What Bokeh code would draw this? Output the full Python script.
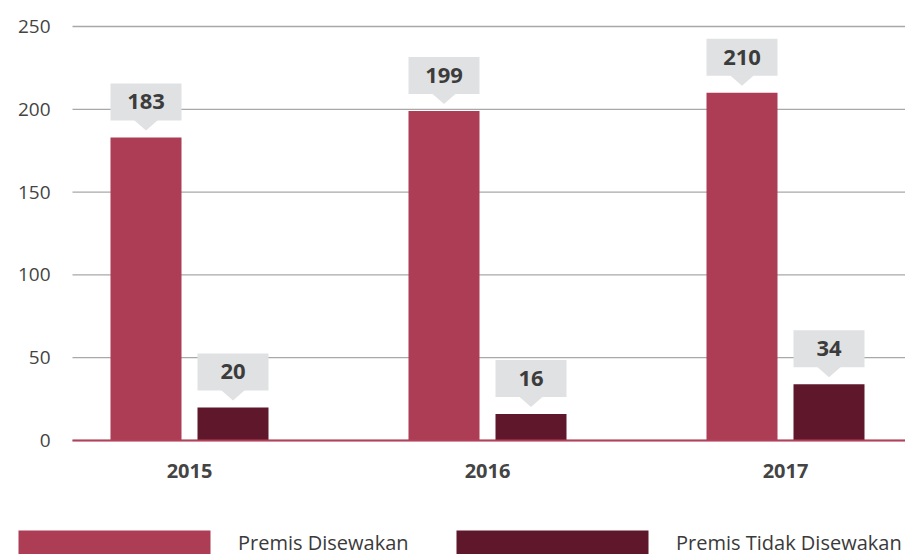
import numpy as np
from bokeh.plotting import figure
from bokeh.models import Legend, LegendItem, FixedTicker, Range1d
from bokeh.core.properties import value
from bokeh.embed import file_html
from bokeh.resources import INLINE

# ---- data ----
years = ["2015", "2016", "2017"]
premis_disewakan = [183, 199, 210]
premis_tidak_disewakan = [20, 16, 34]
series_names = ["Premis Disewakan", "Premis Tidak Disewakan"]
y_ticks = [0, 50, 100, 150, 200, 250]

# ---- style / layout ----
C_LIGHT = "#ac3d55"
C_DARK = "#5e172b"
C_BOX = "#e0e1e3"
C_TEXT = "#3c3c3c"
FONT = "Open Sans"

W, H = 905, 554
PX_X = 298.0          # pixels per category
PX_Y = 1.656          # pixels per unit value
CX0 = 189.0           # page x of the first category centre
BASE_Y = 440.0        # page y of value 0
AXIS_X = 72.0         # page x where the plot area starts

x_start = -CX0 / PX_X
x_end = (W - CX0) / PX_X
y_start = -(H - BASE_Y) / PX_Y
y_end = BASE_Y / PX_Y
x_axis_loc = (AXIS_X - CX0) / PX_X

bar_w = 71.0 / PX_X
dodge = 43.5 / PX_X

p = figure(width=W, height=H, output_backend="svg", toolbar_location=None,
           x_range=Range1d(x_start, x_end), y_range=Range1d(y_start, y_end),
           min_border_left=0, min_border_right=0,
           min_border_top=0, min_border_bottom=0)
p.outline_line_color = None
p.background_fill_color = "white"
p.border_fill_color = "white"
p.xgrid.grid_line_color = None
p.ygrid.grid_line_color = None

xs = np.arange(len(years))

# horizontal grid lines (start at the plot area's left edge)
p.segment(x0=x_axis_loc, x1=x_end, y0=y_ticks, y1=y_ticks,
          line_color="#a8a8a8", line_width=1.3)

r1 = p.vbar(x=xs - dodge, top=premis_disewakan, width=bar_w, bottom=0,
            fill_color=C_LIGHT, line_color=None)
r2 = p.vbar(x=xs + dodge, top=premis_tidak_disewakan, width=bar_w, bottom=0,
            fill_color=C_DARK, line_color=None)

# callout labels
def callouts(xc, vals):
    vals = np.asarray(vals, dtype=float)
    box_y = vals + 35.5 / PX_Y
    p.rect(x=xc, y=box_y, width=bar_w, height=37, height_units="screen",
           fill_color=C_BOX, line_color=None)
    hw = 12.0 / PX_X
    tri_xs = [[x - hw, x + hw, x] for x in xc]
    tri_ys = [[v + 17.5 / PX_Y, v + 17.5 / PX_Y, v + 7.0 / PX_Y] for v in vals]
    p.patches(xs=tri_xs, ys=tri_ys, fill_color=C_BOX, line_color=None)
    p.text(x=xc, y=box_y, text=[str(int(v)) for v in vals],
           text_align="center", text_baseline="middle",
           text_font=value(FONT), text_font_size="22px",
           text_font_style="bold", text_color=C_TEXT)

callouts(xs - dodge, premis_disewakan)
callouts(xs + dodge, premis_tidak_disewakan)

# y axis, drawn inside the canvas at the plot-area edge
p.yaxis.fixed_location = x_axis_loc
p.yaxis.ticker = FixedTicker(ticks=y_ticks)
p.yaxis.axis_line_color = None
p.yaxis.major_tick_line_color = None
p.yaxis.minor_tick_line_color = None
p.yaxis.major_label_standoff = 16
p.yaxis.major_label_text_font = FONT
p.yaxis.major_label_text_font_size = "19px"
p.yaxis.major_label_text_color = "#444444"

# x axis at value 0
p.xaxis.fixed_location = 0
p.xaxis.bounds = (x_axis_loc, x_end)
p.xaxis.ticker = FixedTicker(ticks=list(xs))
p.xaxis.major_label_overrides = {int(i): y for i, y in zip(xs, years)}
p.xaxis.axis_line_color = "#b5405a"
p.xaxis.axis_line_width = 2
p.xaxis.major_tick_line_color = None
p.xaxis.minor_tick_line_color = None
p.xaxis.major_label_standoff = 17
p.xaxis.major_label_text_font = FONT
p.xaxis.major_label_text_font_size = "20px"
p.xaxis.major_label_text_font_style = "bold"
p.xaxis.major_label_text_color = "#444444"

# ---- legends under the chart ----
# (Bokeh insets bar legend glyphs by 10% per side; glyph box enlarged to compensate)
def add_legend(name, rend, rect_left):
    gw, gh = 240, 30
    lg = Legend(items=[LegendItem(label=name, renderers=[rend])],
                location=(rect_left - gw * 0.1, -3), orientation="horizontal",
                glyph_width=gw, glyph_height=gh, label_standoff=4,
                label_height=gh,
                padding=0, margin=0, spacing=0,
                border_line_color=None, background_fill_alpha=0,
                label_text_font=FONT, label_text_font_size="20px",
                label_text_color="#3a3a3a")
    p.add_layout(lg, "center")

add_legend(series_names[0], r1, 18)
add_legend(series_names[1], r2, 456)

open("out.html", "w").write(file_html(p, INLINE))
